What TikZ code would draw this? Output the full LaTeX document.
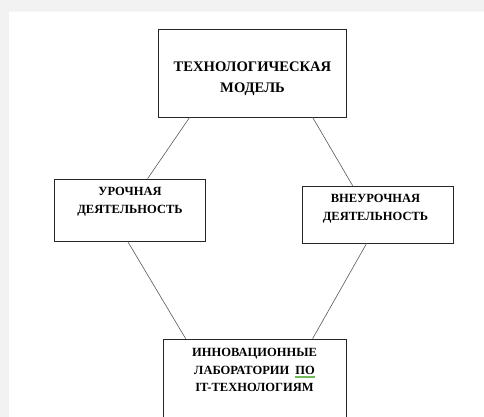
\documentclass[tikz,border=0pt]{standalone}
\usepackage{fontspec}
\setmainfont{Liberation Serif}
\usetikzlibrary{calc}
\definecolor{grammargreen}{rgb}{0.45,0.72,0.35}
\newsavebox{\grammarbox}
\newcommand{\grammarul}[1]{\sbox{\grammarbox}{#1}\rlap{\color{grammargreen}\rule[-2.8pt]{\wd\grammarbox}{0.3pt}\hspace*{-\wd\grammarbox}\rule[-1.9pt]{\wd\grammarbox}{0.3pt}}\usebox{\grammarbox}}
\tikzset{
  box/.style={draw=black!85, line width=0.75pt, rectangle, inner sep=0pt},
  txt/.style={align=center, inner sep=0pt, font=\bfseries\fontsize{12.5}{17.8}\selectfont},
  bigtxt/.style={align=center, inner sep=0pt, font=\bfseries\fontsize{14.6}{21}\selectfont},
  link/.style={draw=black!65, line width=0.6pt}
}
\begin{document}
\begin{tikzpicture}[x=1pt,y=-1pt]
\useasboundingbox (0,0) rectangle (484,417);
\clip (0,0) rectangle (484,417);
% page shadow margins
\fill[black!5] (0,0) rectangle (484,11);
\fill[black!5] (0,0) rectangle (9,417);
\fill[black!3] (9,11) rectangle (484,12);
% boxes
\node[box, minimum width=188pt, minimum height=88pt] (top) at (252,73) {};
\node[box, minimum width=151pt, minimum height=62pt] (left) at (129.5,210) {};
\node[box, minimum width=151pt, minimum height=57pt] (right) at (377.5,214.5) {};
\node[box, minimum width=183pt, minimum height=100pt] (bottom) at (254.5,389) {};
% texts
\node[bigtxt] (toptxt) at (252.5,79) {ТЕХНОЛОГИЧЕСКАЯ\\МОДЕЛЬ};
\node[txt] (lefttxt) at (130,202) {УРОЧНАЯ\\ДЕЯТЕЛЬНОСТЬ};
\node[txt] (righttxt) at (375.5,208.5) {ВНЕУРОЧНАЯ\\ДЕЯТЕЛЬНОСТЬ};
\node[txt] (bottomtxt) at (254.5,370) {ИННОВАЦИОННЫЕ\\ЛАБОРАТОРИИ\hspace{6pt}\grammarul{ПО}\\IT-ТЕХНОЛОГИЯМ};
% connectors
\draw[link] ([xshift=32pt]top.south west) -- ([xshift=94pt]left.north west);
\draw[link] ([xshift=155pt]top.south west) -- ([xshift=51pt]right.north west);
\draw[link] ([xshift=74pt]left.south west) -- ([xshift=23pt]bottom.north west);
\draw[link] ([xshift=65pt]right.south west) -- ([xshift=150pt]bottom.north west);
\end{tikzpicture}
\end{document}
